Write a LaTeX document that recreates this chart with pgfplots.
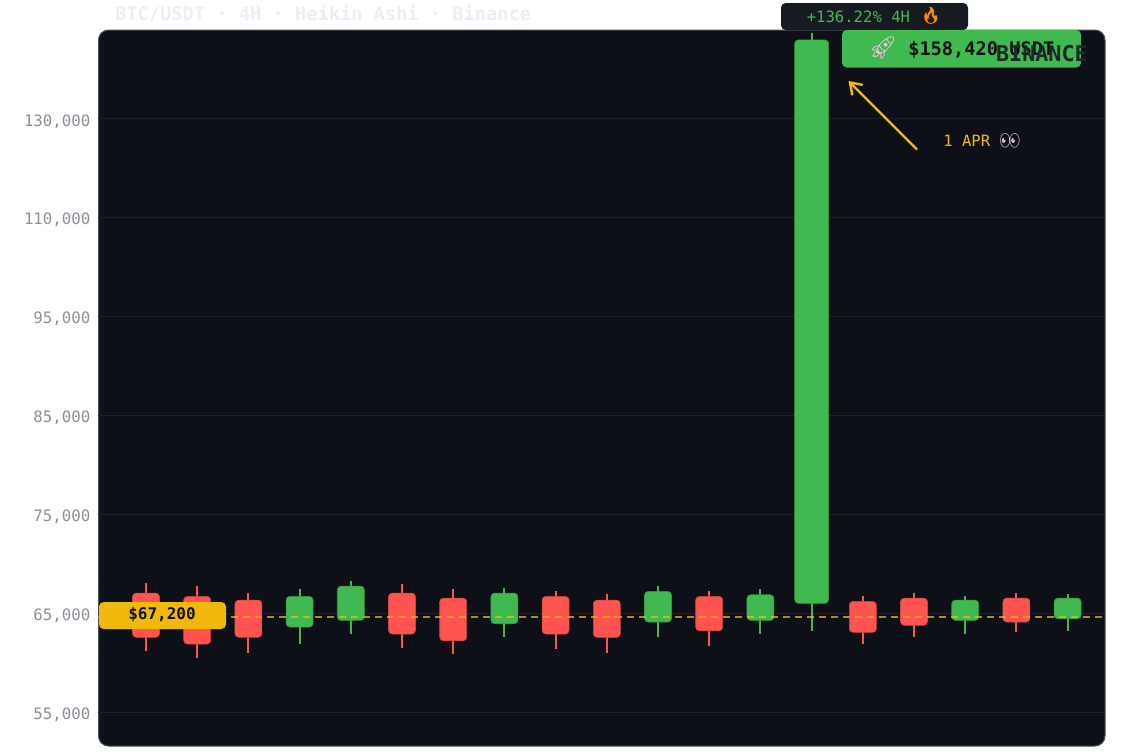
\documentclass[border=0pt]{standalone}
\usepackage{pgfplots}
\pgfplotsset{compat=1.18}
\usepackage{fontspec}
\usetikzlibrary{arrows.meta}
\setmainfont{DejaVu Sans Mono}
\setmonofont{DejaVu Sans Mono}
\newfontfamily\emojifont{Noto Emoji}
\definecolor{panel}{HTML}{0D1117}
\definecolor{edge}{HTML}{4A5058}
\definecolor{gridc}{HTML}{1D2129}
\definecolor{up}{HTML}{3FB950}
\definecolor{down}{HTML}{FF5450}
\definecolor{gold}{HTML}{F0B90B}
\definecolor{tickc}{HTML}{8B9098}
\definecolor{titlec}{HTML}{E9EFF5}
\definecolor{badge}{HTML}{161B22}
\definecolor{mark}{HTML}{21262D}
\newcommand\fs[1]{\fontsize{#1}{#1}\selectfont}
% x, high, low, body top, body bottom, colour, half width
\newcommand\candle[7]{%
  \pgfmathsetmacro\xl{#1-#7}\pgfmathsetmacro\xr{#1+#7}%
  \addplot[color=#6,line width=1.5pt,forget plot] coordinates {(#1,#2) (#1,#3)};
  \addplot[fill=#6,draw=#6!80!black,line width=0.45pt,rounded corners=2.8pt,forget plot]
    coordinates {(#1,#5) (\xr,#5) (\xr,#4) (\xl,#4) (\xl,#5) (#1,#5)};
}
\begin{document}
\begin{tikzpicture}[x=0.75pt,y=-0.75pt]
\path[use as bounding box,fill=white] (0,0) rectangle (1140,754);
\node[anchor=west,inner sep=0pt,text=titlec,font=\fs{14}\bfseries] at (115,14) {BTC/USDT · 4H · Heikin Ashi · Binance};
\draw[fill=panel,draw=edge,line width=0.75pt,rounded corners=7.5pt] (98.5,30) rectangle (1105,746);
\begin{axis}[
  at={(73.875pt,-559.5pt)},anchor=south west,
  scale only axis,width=754.875pt,height=537pt,
  xmin=-0.928,xmax=18.73,ymin=51600,ymax=162000,
  y coord trafo/.code={\begingroup\pgfkeys{/pgf/fpu=true,/pgf/fpu/output format=fixed}%
    \pgfmathparse{#1<=95000?(#1-55000)/10000:(#1<=110000?4+(#1-95000)/15000:(#1<=130000?5+(#1-110000)/20000:6+(#1-130000)/35800))}%
    \pgfmathsmuggle\pgfmathresult\endgroup},
  axis line style={draw=none},
  tick style={draw=none},
  xtick=\empty,
  ytick={55000,65000,75000,85000,95000,110000,130000},
  yticklabels={{55,000},{65,000},{75,000},{85,000},{95,000},{110,000},{130,000}},
  ymajorgrids,
  grid style={gridc,line width=0.75pt},
  yticklabel style={text=tickc,font=\fs{11.8},xshift=-2.6pt,yshift=-2.1pt},
  axis on top=false,
]
\candle{0}{68090}{61220}{67050}{62580}{down}{0.264}
\candle{1}{67760}{60515}{66720}{61900}{down}{0.264}
\candle{2}{67050}{61020}{66340}{62580}{down}{0.264}
\candle{3}{67420}{61870}{66720}{63615}{up}{0.264}
\candle{4}{68260}{62910}{67760}{64290}{up}{0.264}
\candle{5}{67960}{61525}{67050}{62910}{down}{0.264}
\candle{6}{67420}{60860}{66545}{62230}{down}{0.264}
\candle{7}{67585}{62580}{67050}{63950}{up}{0.264}
\candle{8}{67250}{61365}{66720}{62910}{down}{0.264}
\candle{9}{66920}{61020}{66340}{62580}{down}{0.264}
\candle{10}{67760}{62580}{67220}{64120}{up}{0.264}
\candle{11}{67250}{61700}{66720}{63240}{down}{0.264}
\candle{12}{67420}{62910}{66880}{64290}{up}{0.264}
\candle{13}{160900}{63240}{158420}{66010}{up}{0.332}
\candle{14}{66750}{61870}{66210}{63080}{down}{0.264}
\candle{15}{67080}{62580}{66545}{63790}{down}{0.264}
\candle{16}{66750}{62910}{66340}{64290}{up}{0.264}
\candle{17}{67080}{63080}{66545}{64120}{down}{0.264}
\candle{18}{66920}{63240}{66545}{64455}{up}{0.264}
\addplot[gold,opacity=0.75,line width=1.4pt,dash pattern=on 5.25pt off 3.75pt,forget plot] coordinates {(-0.928,64650) (18.73,64650)};
\end{axis}
% price badge on the left
\draw[fill=gold,draw=none,rounded corners=3.5pt] (99,602) rectangle (226,629);
\node[text=panel,font=\fs{12}\bfseries,inner sep=0pt] at (162,615) {\$67,200};
% percentage badge
\draw[fill=badge,draw=none,rounded corners=3.5pt] (781,3) rectangle (968,30);
\node[anchor=west,text=up,font=\fs{11.7},inner sep=0pt] at (806.5,16.5) {+136.22\% 4H};
\node[anchor=center,text=orange!90!yellow,font=\emojifont\fs{12.5},inner sep=0pt] at (931,15.5) {🔥};
% price call-out
\draw[fill=up,draw=none,rounded corners=3.5pt] (842,30) rectangle (1081,67.5);
\node[anchor=center,text=white!75!magenta,font=\emojifont\fs{17},inner sep=0pt] at (883,48.5) {🚀};
\node[anchor=west,text=panel,font=\fs{14}\bfseries,inner sep=0pt] at (908,50) {\$158,420 USDT};
\node[anchor=east,text=mark,font=\fs{16.3}\bfseries,inner sep=0pt] at (1088,54) {BINANCE};
% arrow
\draw[gold,line width=1.8pt,-{Straight Barb[length=8pt,width=11pt]}] (917,149.5) -- (848.5,81);
\node[anchor=west,text=gold,font=\fs{11.7},inner sep=0pt] at (943,141) {1 APR};
\node[anchor=center,text=white!75!violet,font=\emojifont\fs{12.5},inner sep=0pt] at (1010,141) {👀};
\end{tikzpicture}
\end{document}
